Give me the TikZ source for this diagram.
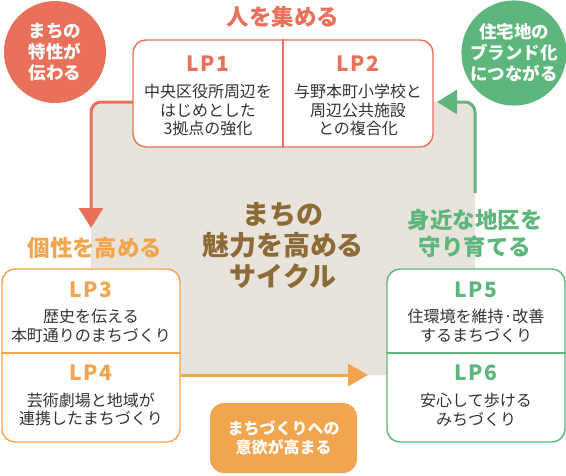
\documentclass[tikz,border=0pt]{standalone}
\usepackage{fontspec}
\setmainfont{Noto Sans CJK JP}
\newfontfamily\lpfont[LetterSpace=8]{Noto Sans CJK JP}
\usetikzlibrary{arrows.meta}
\definecolor{redc}{HTML}{E9705A}
\definecolor{greenc}{HTML}{5DB67B}
\definecolor{orangec}{HTML}{F0A54E}
\definecolor{brownc}{HTML}{8E6B36}
\definecolor{bgc}{HTML}{E8E4DB}
\definecolor{textc}{HTML}{333333}
\tikzset{
  bgbox/.style={fill=bgc, rounded corners=10pt, minimum width=384pt, minimum height=273pt, inner sep=0pt},
  lpbox/.style={draw=#1, fill=white, line width=1.4pt, rounded corners=13pt, inner sep=0pt},
  circ/.style={circle, fill=#1, minimum size=102pt, inner sep=0pt, text=white, align=center,
     font=\fontsize{17.5}{21}\selectfont\bfseries},
  lplabel/.style={text=#1, font=\lpfont\fontsize{21}{24}\selectfont\bfseries, inner sep=0pt},
  body/.style={text=textc, align=center, font=\fontsize{16}{18.5}\selectfont, inner sep=0pt},
  ttl/.style={text=#1, align=center, font=\fontsize{22.5}{27}\selectfont\bfseries, inner sep=0pt},
  arr/.style={draw=#1, line width=3pt, -{Triangle[width=24pt,length=20pt]}},
}
\begin{document}
\begin{tikzpicture}[x=1pt,y=-1pt]
\useasboundingbox (0,0) rectangle (566,475);
% background
\node[bgbox] (bg) at (283,238.5) {};
% arrows
\coordinate (redend) at (91,228);
\coordinate (greenstart) at (475,193);
\draw[arr=redc, rounded corners=10pt] (133,102) -- (91,102) -- (redend);
\draw[arr=greenc, rounded corners=10pt] (greenstart) -- (475,102) -- (437,102);
% top box
\node[lpbox=redc, minimum width=300pt, minimum height=107pt] (top) at (283,93.5) {};
\draw[redc, line width=1.4pt] (top.north) -- (top.south);
% left box
\node[lpbox=orangec, minimum width=178pt, minimum height=173pt] (left) at (91,355.5) {};
\draw[orangec, line width=1.4pt] (left.west |- 0,353) -- (left.east |- 0,353);
% right box
\node[lpbox=greenc, minimum width=178pt, minimum height=173pt] (right) at (476,355.5) {};
\draw[greenc, line width=1.4pt] (right.west |- 0,353) -- (right.east |- 0,353);
% orange arrow
\coordinate (orangeend) at (368,375);
\draw[arr=orangec, -{Triangle[width=22pt,length=20pt]}] (left.east |- 0,375) -- (orangeend);
% circles
\node[circ=redc] (c1) at (55,52) {まちの\\特性が\\伝わる};
\node[circ=greenc] (c2) at (514,53) {住宅地の\\ブランド化\\につながる};
% orange box
\node[fill=orangec, rounded corners=14pt, minimum width=147pt, minimum height=70pt, text=white, align=center,
  font=\fontsize{16}{19.5}\selectfont\bfseries, inner sep=0pt] (ob) at (283.5,438) {まちづくりへの\\意欲が高まる};
% titles
\node[ttl=redc] (t1) at (283,17) {人を集める};
\node[ttl=orangec] (t2) at (95,248) {個性を高める};
\node[ttl=greenc] (t3) at (475,233.5) {身近な地区を\\守り育てる};
\node[ttl=brownc, font=\fontsize{27}{31}\selectfont\bfseries] (center) at (283,246) {まちの\\魅力を高める\\サイクル};
% LP labels and texts
\node[lplabel=redc] (lp1) at (208,64) {LP1};
\node[body] (lp1t) at (208,110) {中央区役所周辺を\\はじめとした\\3拠点の強化};
\node[lplabel=redc] (lp2) at (358,64) {LP2};
\node[body] (lp2t) at (358,110) {与野本町小学校と\\周辺公共施設\\との複合化};
\node[lplabel=orangec] (lp3) at (91,290) {LP3};
\node[body] (lp3t) at (91,326) {歴史を伝える\\本町通りのまちづくり};
\node[lplabel=orangec] (lp4) at (91,373) {LP4};
\node[body] (lp4t) at (91,409.5) {芸術劇場と地域が\\連携したまちづくり};
\node[lplabel=greenc] (lp5) at (476,290) {LP5};
\node[body] (lp5t) at (476,326) {住環境を維持·改善\\するまちづくり};
\node[lplabel=greenc] (lp6) at (476,373) {LP6};
\node[body] (lp6t) at (476,410) {安心して歩ける\\みちづくり};
\end{tikzpicture}
\end{document}
